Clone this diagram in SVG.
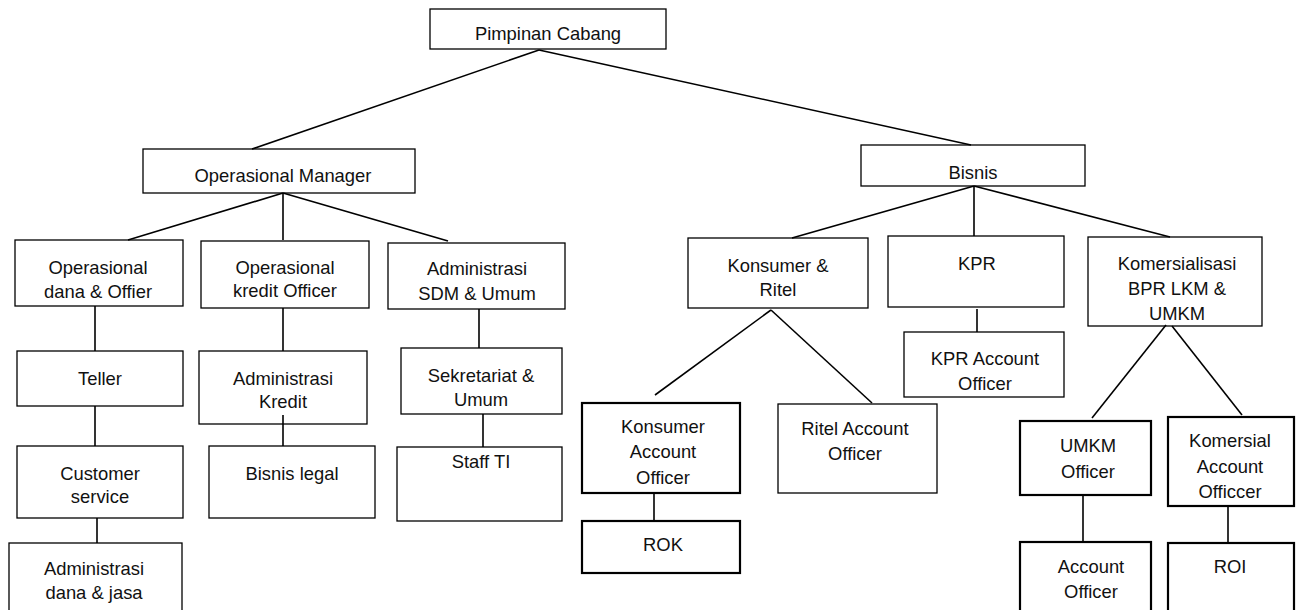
<svg xmlns="http://www.w3.org/2000/svg" width="1302" height="610" viewBox="0 0 1302 610">
<style>
.b{fill:#fff;stroke:#000;stroke-width:1.3}
.t{fill:#fff;stroke:#000;stroke-width:2.2}
text{font-family:"Liberation Sans",Arial,sans-serif;font-size:18.4px;fill:#111;text-anchor:middle}
.c line{stroke:#000;stroke-width:1.6}
</style>
<rect width="1302" height="610" fill="#fff"/>
<g id="pimpinan"><rect class="b" x="430" y="9" width="236" height="40"/><text x="548" y="40">Pimpinan Cabang</text></g>
<g id="opman"><rect class="b" x="143" y="149" width="272" height="44"/><text x="283" y="182">Operasional Manager</text></g>
<g id="bisnis"><rect class="b" x="861" y="145" width="224" height="41"/><text x="973" y="179">Bisnis</text></g>
<g id="opdana"><rect class="b" x="15" y="240" width="168" height="66"/><text x="98" y="274">Operasional</text><text x="98" y="298">dana &amp; Offier</text></g>
<g id="opkredit"><rect class="b" x="201" y="241" width="168" height="67"/><text x="285" y="274">Operasional</text><text x="285" y="297">kredit Officer</text></g>
<g id="adminsdm"><rect class="b" x="388" y="243" width="177" height="66"/><text x="477" y="275">Administrasi</text><text x="477" y="300">SDM &amp; Umum</text></g>
<g id="teller"><rect class="b" x="17" y="351" width="166" height="55"/><text x="100" y="385">Teller</text></g>
<g id="cs"><rect class="b" x="17" y="446" width="166" height="72"/><text x="100" y="480">Customer</text><text x="100" y="503">service</text></g>
<g id="admdana"><rect class="b" x="9" y="543" width="173" height="80"/><text x="94" y="575">Administrasi</text><text x="94" y="599">dana &amp; jasa</text></g>
<g id="admkredit"><rect class="b" x="199" y="351" width="168" height="73"/><text x="283" y="385">Administrasi</text><text x="283" y="408">Kredit</text></g>
<g id="bisnislegal"><rect class="b" x="209" y="446" width="166" height="72"/><text x="292" y="480">Bisnis legal</text></g>
<g id="sekretariat"><rect class="b" x="401" y="348" width="161" height="66"/><text x="481" y="382">Sekretariat &amp;</text><text x="481" y="406">Umum</text></g>
<g id="staffti"><rect class="b" x="397" y="447" width="165" height="74"/><text x="481" y="468">Staff TI</text></g>
<g id="konsumerritel"><rect class="b" x="688" y="238" width="180" height="70"/><text x="778" y="272">Konsumer &amp;</text><text x="778" y="296">Ritel</text></g>
<g id="kpr"><rect class="b" x="888" y="236" width="176" height="71"/><text x="977" y="270">KPR</text></g>
<g id="kpracc"><rect class="b" x="904" y="332" width="160" height="65"/><text x="985" y="365">KPR Account</text><text x="985" y="390">Officer</text></g>
<g id="komersialisasi"><rect class="b" x="1088" y="237" width="174" height="89"/><text x="1177" y="270">Komersialisasi</text><text x="1177" y="295">BPR LKM &amp;</text><text x="1177" y="320">UMKM</text></g>
<g id="konsumeracc"><rect class="t" x="582" y="403" width="158" height="90"/><text x="663" y="433">Konsumer</text><text x="663" y="458">Account</text><text x="663" y="484">Officer</text></g>
<g id="rok"><rect class="t" x="582" y="521" width="158" height="52"/><text x="663" y="551">ROK</text></g>
<g id="ritelacc"><rect class="b" x="778" y="404" width="159" height="89"/><text x="855" y="435">Ritel Account</text><text x="855" y="460">Officer</text></g>
<g id="umkmofficer"><rect class="t" x="1020" y="421" width="131" height="74"/><text x="1088" y="452">UMKM</text><text x="1088" y="478">Officer</text></g>
<g id="komersialacc"><rect class="t" x="1168" y="417" width="126" height="89"/><text x="1230" y="447">Komersial</text><text x="1230" y="473">Account</text><text x="1230" y="498">Officcer</text></g>
<g id="accofficer"><rect class="t" x="1020" y="542" width="131" height="80"/><text x="1091" y="573">Account</text><text x="1091" y="598">Officer</text></g>
<g id="roi"><rect class="t" x="1168" y="543" width="126" height="80"/><text x="1230" y="573">ROI</text></g>
<g class="c" id="connectors">
<line x1="539" y1="50" x2="252" y2="149"/>
<line x1="539" y1="50" x2="971" y2="145"/>
<line x1="283" y1="193" x2="128" y2="240"/>
<line x1="283" y1="193" x2="283" y2="240"/>
<line x1="283" y1="193" x2="448" y2="241"/>
<line x1="95" y1="306" x2="95" y2="351"/>
<line x1="95" y1="406" x2="95" y2="446"/>
<line x1="97" y1="518" x2="97" y2="543"/>
<line x1="283" y1="308" x2="283" y2="351"/>
<line x1="283" y1="415" x2="283" y2="446"/>
<line x1="479" y1="309" x2="479" y2="348"/>
<line x1="483" y1="414" x2="483" y2="447"/>
<line x1="974" y1="186" x2="792" y2="238"/>
<line x1="974" y1="186" x2="974" y2="236"/>
<line x1="974" y1="186" x2="1170" y2="237"/>
<line x1="771" y1="310" x2="655" y2="395"/>
<line x1="771" y1="310" x2="872" y2="403"/>
<line x1="654" y1="493" x2="654" y2="521"/>
<line x1="977" y1="309" x2="977" y2="332"/>
<line x1="1166" y1="325" x2="1092" y2="418"/>
<line x1="1172" y1="326" x2="1242" y2="415"/>
<line x1="1083" y1="495" x2="1083" y2="542"/>
<line x1="1228" y1="506" x2="1228" y2="543"/>
</g>
</svg>
